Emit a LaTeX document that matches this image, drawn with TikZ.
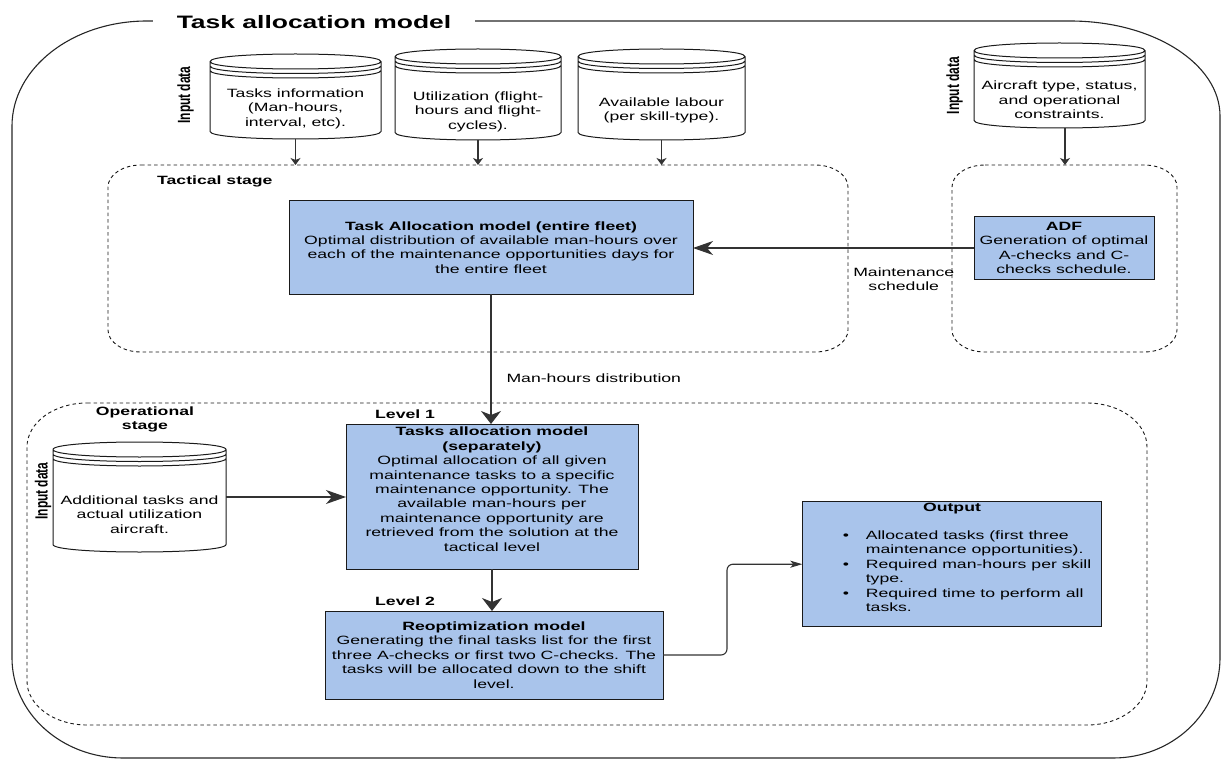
\documentclass[tikz,border=0pt]{standalone}
\usepackage{fontspec}
\setmainfont{Liberation Sans}[FakeStretch=1.47]
\newfontfamily\uprightsans{Liberation Sans}
\usepackage{graphicx}
\usetikzlibrary{arrows.meta,calc}

\definecolor{boxblue}{HTML}{A9C4EB}
\definecolor{inkline}{HTML}{1A1A1A}

% rounded outline with elliptical corners around an (invisible) node
\newcommand\roundoutline[4][]{%
  \draw[#1] let \p1=(#2.south west), \p2=(#2.north east) in
    (\x1+#3,\y2) -- (\x2-#3,\y2)
    arc[start angle=90,end angle=0,x radius=#3,y radius=#4]
    -- (\x2,\y1+#4) arc[start angle=0,end angle=-90,x radius=#3,y radius=#4]
    -- (\x1+#3,\y1) arc[start angle=270,end angle=180,x radius=#3,y radius=#4]
    -- (\x1,\y2-#4) arc[start angle=180,end angle=90,x radius=#3,y radius=#4]
    -- cycle;}

% data-store drum drawn round the bounds of a node
\newcommand\drumoutline[1]{%
  \draw[drum] let \p1=(#1.south west), \p2=(#1.north east) in
    (\x1,\y2-7.5pt) .. controls (\x1,\y2+2.5pt) and (\x2,\y2+2.5pt) .. (\x2,\y2-7.5pt)
    -- (\x2,\y1+7.5pt) .. controls (\x2,\y1-2.5pt) and (\x1,\y1-2.5pt) .. (\x1,\y1+7.5pt)
    -- cycle
    (\x1,\y2-7.5pt) .. controls (\x1,\y2-17.5pt) and (\x2,\y2-17.5pt) .. (\x2,\y2-7.5pt)
    (\x1,\y2-12pt) .. controls (\x1,\y2-22pt) and (\x2,\y2-22pt) .. (\x2,\y2-12pt)
    (\x1,\y2-16.5pt) .. controls (\x1,\y2-26.5pt) and (\x2,\y2-26.5pt) .. (\x2,\y2-16.5pt);}

\tikzset{
  txt/.style={font=\fontsize{12pt}{14.4pt}\selectfont, text=black, inner sep=0pt},
  hd/.style={font=\fontsize{12pt}{14.4pt}\selectfont\bfseries, text=black, inner sep=0pt},
  modelbox/.style={draw=inkline, line width=1pt, fill=boxblue, inner sep=0pt, outer sep=0pt},
  area/.style={inner sep=0pt, outer sep=0pt},
  stageline/.style={draw=black!90, line width=0.9pt, dash pattern=on 3.5pt off 3pt},
  frameline/.style={draw=black!85, line width=1.1pt},
  drum/.style={draw=inkline, line width=1pt, fill=white},
  link/.style={draw=black!80, line width=1.1pt},
  bigdown/.style={link, -{Stealth[length=13pt,width=20pt,inset=4pt]}},
  bigside/.style={link, -{Stealth[length=20pt,width=14pt,inset=6pt]}},
  smalldown/.style={link, -{Stealth[length=7pt,width=10pt,inset=2pt]}},
  smallside/.style={link, -{Stealth[length=12pt,width=7pt,inset=3pt]}},
  inputtag/.style={inner sep=0pt, font=\uprightsans\fontsize{12pt}{14.4pt}\selectfont\bfseries},
}

\begin{document}
\begin{tikzpicture}[x=1pt, y=-1pt]
\useasboundingbox (0,0) rectangle (1221,762);

% ---- outer frame with its title
\node[area, minimum width=1208pt, minimum height=737pt] (frame) at (616,389.5) {};
\draw[frameline] let \p1=(frame.south west), \p2=(frame.north east) in
  (\x1+135pt,\y2) -- (\x2-150pt,\y2)
  arc[start angle=90,end angle=0,x radius=150pt,y radius=95pt]
  -- (\x2,\y1+100pt) arc[start angle=0,end angle=-90,x radius=107pt,y radius=100pt]
  -- (\x1+111pt,\y1) arc[start angle=270,end angle=180,x radius=111pt,y radius=100pt]
  -- (\x1,\y2-105pt) arc[start angle=180,end angle=90,x radius=135pt,y radius=105pt]
  -- cycle;
\node[fill=white, inner xsep=24pt, inner ysep=3pt,
      font=\fontsize{18pt}{21.6pt}\selectfont\bfseries] (title) at (314,21.7) {Task allocation model};

% ---- stage containers
\node[area, minimum width=740pt, minimum height=187pt] (tact) at (478,258.5) {};
\node[area, minimum width=225pt, minimum height=187pt] (sched) at (1064.5,258.5) {};
\node[area, minimum width=1120pt, minimum height=322pt] (oper) at (587,564) {};
\roundoutline[stageline]{tact}{33pt}{22pt}
\roundoutline[stageline]{sched}{33pt}{22pt}
\roundoutline[stageline]{oper}{60pt}{44pt}

\node[hd, anchor=west] (tactname) at ([xshift=49pt,yshift=-16pt]tact.north west) {Tactical stage};
\node[hd, align=center] (opername) at ([xshift=118pt,yshift=-16.5pt]oper.north west) {Operational\\stage};

% ---- input data stores
\node[area, minimum width=171pt, minimum height=85pt] (c1) at (295.5,96.5) {};
\node[area, minimum width=166pt, minimum height=91pt] (c2) at (478,94.5) {};
\node[area, minimum width=167pt, minimum height=91pt] (c3) at (661.5,94.5) {};
\node[area, minimum width=171pt, minimum height=85pt] (c4) at (1059.5,85.5) {};
\node[area, minimum width=173pt, minimum height=110pt] (c5) at (139.5,497) {};
\drumoutline{c1}
\drumoutline{c2}
\drumoutline{c3}
\drumoutline{c4}
\drumoutline{c5}

\node[txt, align=center] (c1t) at ([yshift=-12pt]c1.center) {Tasks information\\(Man-hours,\\interval, etc).};
\node[txt, align=center] (c2t) at ([yshift=-17pt]c2.center) {Utilization (flight-\\hours and flight-\\cycles).};
\node[txt, align=center] (c3t) at ([yshift=-16pt]c3.center) {Available labour\\(per skill-type).};
\node[txt, align=center] (c4t) at ([yshift=-14.5pt]c4.center) {Aircraft type, status,\\and operational\\constraints.};
\node[txt, align=center] (c5t) at ([yshift=-17.7pt]c5.center) {Additional tasks and\\actual utilization\\aircraft.};

\node[inputtag] (in1) at ([xshift=-24.5pt,yshift=1.5pt]c1.west) {\rotatebox{90}{\scalebox{1}[1.47]{Input data}}};
\node[inputtag] (in4) at ([xshift=-19.5pt]c4.west) {\rotatebox{90}{\scalebox{1}[1.47]{Input data}}};
\node[inputtag] (in5) at ([xshift=-10pt,yshift=6pt]c5.west) {\rotatebox{90}{\scalebox{1}[1.47]{Input data}}};

% ---- model boxes
\node[modelbox, txt, align=center, minimum width=404pt, minimum height=93pt] (task) at (491,247.5)
  {\textbf{Task Allocation model (entire fleet)}\\Optimal distribution of available man-hours over\\each of the maintenance opportunities days for\\the entire fleet};
\node[modelbox, txt, align=center, minimum width=180pt, minimum height=62pt] (adf) at (1064,248)
  {\textbf{ADF}\\Generation of optimal\\A-checks and C-\\checks schedule.};
\node[modelbox, minimum width=292pt, minimum height=145pt] (level1) at (492,496.5) {};
\node[txt, align=center, anchor=north] (level1t) at ([yshift=-3pt]level1.north)
  {\textbf{Tasks allocation model}\\\textbf{(separately)}\\Optimal allocation of all given\\maintenance tasks to a specific\\maintenance opportunity. The\\available man-hours per\\maintenance opportunity are\\retrieved from the solution at the\\tactical level};
\node[modelbox, txt, align=center, minimum width=338pt, minimum height=88pt] (level2) at (494,655)
  {\textbf{Reoptimization model}\\Generating the final tasks list for the first\\three A-checks or first two C-checks. The\\tasks will be allocated down to the shift\\level.};
\node[modelbox, minimum width=299.4pt, minimum height=125pt] (output) at (952,564.2) {};
\node[hd, anchor=north] (outhead) at ([yshift=-1.5pt]output.north) {Output};
\node[txt, align=left, anchor=north west] (outlist) at ([xshift=40.3pt,yshift=-28.9pt]output.north west)
  {\makebox[23pt][l]{\textbullet}Allocated tasks (first three\\
   \hspace*{23pt}maintenance opportunities).\\
   \makebox[23pt][l]{\textbullet}Required man-hours per skill\\
   \hspace*{23pt}type.\\
   \makebox[23pt][l]{\textbullet}Required time to perform all\\
   \hspace*{23pt}tasks.};

\node[hd, anchor=west] (lv1) at ([xshift=29pt,yshift=10pt]level1.north west) {Level 1};
\node[hd, anchor=west] (lv2) at ([xshift=50pt,yshift=10pt]level2.north west) {Level 2};

% ---- connectors
\draw[smalldown] (c1.south) -- (c1.south |- tact.north);
\draw[smalldown] (c2.south) -- (c2.south |- tact.north);
\draw[smalldown] (c3.south) -- (c3.south |- tact.north);
\draw[smalldown] ([xshift=5.5pt]c4.south) -- ([xshift=5.5pt]c4.south |- sched.north);
\draw[bigside] (adf.west) -- (adf.west -| task.east)
  node[txt, align=center, pos=0.25, yshift=-31pt] (schedlabel) {Maintenance\\schedule};
\draw[bigdown] (task.south) -- (task.south |- level1.north)
  node[txt, pos=0.65, anchor=west, xshift=15pt] (mhlabel) {Man-hours distribution};
\draw[bigside] (c5.east) -- (c5.east -| level1.west);
\draw[bigdown] (level1.south) -- (level1.south |- level2.north);
\draw[smallside, rounded corners=6pt] (level2.east) -- ++(64,0) |- (output.west);
\end{tikzpicture}
\end{document}
